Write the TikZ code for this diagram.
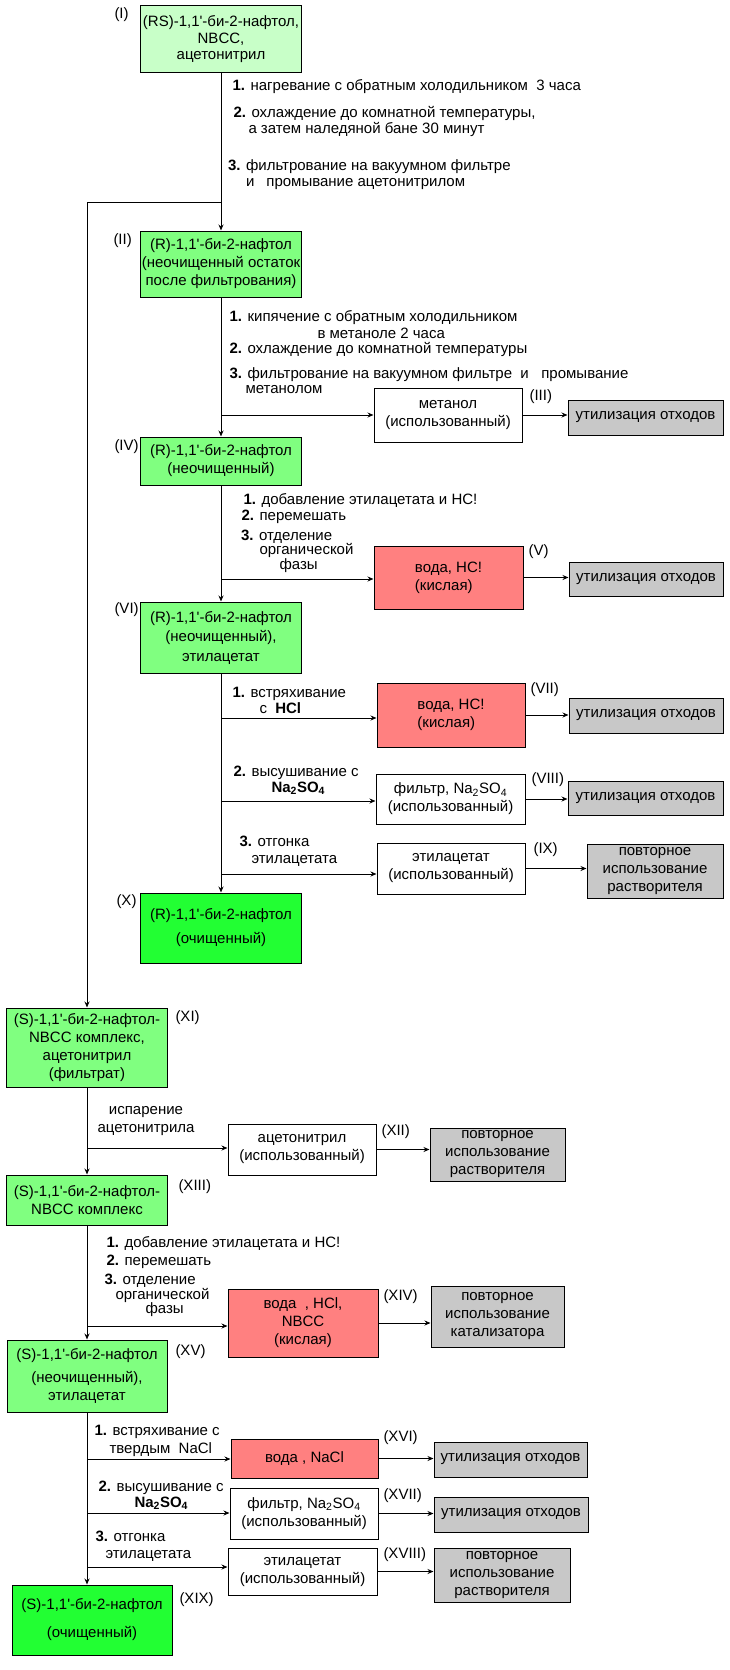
\documentclass[tikz,border=0pt]{standalone}
\usepackage{fontspec}
\setmainfont{Liberation Sans}[Ligatures=TeXOff]
\usetikzlibrary{arrows.meta}
\definecolor{palegreen}{RGB}{200,255,200}
\definecolor{rawgreen}{RGB}{128,255,128}
\definecolor{puregreen}{RGB}{34,255,51}
\definecolor{acidred}{RGB}{255,128,128}
\definecolor{bingray}{RGB}{200,200,200}

\begin{document}
\begin{tikzpicture}[x=1pt, y=-1pt, line width=1pt,
	box/.style = {draw, inner sep=0pt, align=center, font=\fontsize{15}{18}\selectfont},
	sz/.style 2 args = {minimum width=#1pt, minimum height=#2pt},
	startbox/.style = {box, fill=palegreen},
	rawbox/.style = {box, fill=rawgreen},
	purebox/.style = {box, fill=puregreen},
	acidbox/.style = {box, fill=acidred},
	usedbox/.style = {box, fill=white},
	endbox/.style = {box, fill=bingray},
	note/.style = {anchor=west, inner sep=0pt, align=left, font=\fontsize{15}{16}\selectfont},
	numlbl/.style = {anchor=west, inner sep=0pt, font=\fontsize{15}{17}\selectfont},
	arr/.style = {-{Stealth[length=6pt, width=5pt]}}]
	\useasboundingbox (0,0) rectangle (730,1670);
	% (R) column
	\node[startbox, sz={161}{67}, font=\fontsize{15}{16.5}\selectfont] (1) at (221,39.5) {(RS)-1,1'-би-2-нафтол,\\NBCC,\\ацетонитрил};
	\node[rawbox, sz={161}{66}] (2) at (221,264) {(R)-1,1'-би-2-нафтол\\(неочищенный остаток\\после фильтрования)};
	\node[usedbox, sz={148}{54}] (3) at (448,415) {метанол\\(использованный)};
	\node[endbox, sz={155}{35}] (g3) at (645.5,417.5) {утилизация отходов};
	\node[rawbox, sz={161}{48}] (4) at (221,461) {(R)-1,1'-би-2-нафтол\\(неочищенный)};
	\node[acidbox, sz={149}{63}, align=left] (5) at (448.5,577.5) {вода, HC!\\(кислая)};
	\node[endbox, sz={154}{34}] (g5) at (646,579) {утилизация отходов};
	\node[rawbox, sz={161}{71}, font=\fontsize{15}{19.5}\selectfont] (6) at (221,637.5) {(R)-1,1'-би-2-нафтол\\(неочищенный),\\этилацетат};
	\node[acidbox, sz={148}{64}, align=left] (7) at (451,715) {вода, HC!\\(кислая)};
	\node[endbox, sz={154}{35}] (g7) at (646,715.5) {утилизация отходов};
	\node[usedbox, sz={149}{50}] (8) at (450.5,799) {фильтр, Na\textsubscript{2}SO\textsubscript{4}\\(использованный)};
	\node[endbox, sz={155}{34}] (g8) at (645.5,798) {утилизация отходов};
	\node[usedbox, sz={148}{51}] (9) at (451,868.5) {этилацетат\\(использованный)};
	\node[endbox, sz={136}{54}] (g9) at (655,871) {повторное\\использование\\растворителя};
	\node[purebox, sz={161}{70}, font=\fontsize{15}{24}\selectfont] (10) at (221,928) {(R)-1,1'-би-2-нафтол\\(очищенный)};
	% (S) column
	\node[rawbox, sz={161}{79}] (11) at (87,1047.5) {(S)-1,1'-би-2-нафтол-\\NBCC комплекс,\\ацетонитрил\\(фильтрат)};
	\node[usedbox, sz={148}{51}] (12) at (302,1149.5) {ацетонитрил\\(использованный)};
	\node[endbox, sz={135}{53}] (g12) at (497.5,1154.5) {повторное\\использование\\растворителя};
	\node[rawbox, sz={161}{50}] (13) at (87,1200) {(S)-1,1'-би-2-нафтол-\\NBCC комплекс};
	\node[acidbox, sz={150}{68}] (14) at (303,1323) {вода\ \ , HCl,\\NBCC\\(кислая)};
	\node[endbox, sz={133}{61}] (g14) at (497.5,1316.5) {повторное\\использование\\катализатора};
	\node[rawbox, sz={160}{72}] (15) at (87,1376) {(S)-1,1'-би-2-нафтол\\[5pt](неочищенный),\\этилацетат};
	\node[acidbox, sz={147}{39}] (16) at (304.5,1458.5) {вода , NaCl};
	\node[endbox, sz={153}{35}] (g16) at (510.5,1459.5) {утилизация отходов};
	\node[usedbox, sz={148}{51}] (17) at (304,1513.5) {фильтр, Na\textsubscript{2}SO\textsubscript{4}\\(использованный)};
	\node[endbox, sz={154}{35}] (g17) at (511,1514.5) {утилизация отходов};
	\node[usedbox, sz={149}{47}] (18) at (302.5,1571.5) {этилацетат\\(использованный)};
	\node[endbox, sz={136}{54}] (g18) at (502,1575) {повторное\\использование\\растворителя};
	\node[purebox, sz={160}{70}, font=\fontsize{15}{28}\selectfont] (19) at (92,1620) {(S)-1,1'-би-2-нафтол\\(очищенный)};
	% labels
	\node[numlbl] (l1) at (114,15) {(I)};
	\node[numlbl] (l2) at (113,241) {(II)};
	\node[numlbl] (l3) at (529,397) {(III)};
	\node[numlbl] (l4) at (114,447) {(IV)};
	\node[numlbl] (l5) at (528,552) {(V)};
	\node[numlbl] (l6) at (114,610) {(VI)};
	\node[numlbl] (l7) at (530,690) {(VII)};
	\node[numlbl] (l8) at (531,780) {(VIII)};
	\node[numlbl] (l9) at (533,850) {(IX)};
	\node[numlbl] (l10) at (116,902) {(X)};
	\node[numlbl] (l11) at (175,1018) {(XI)};
	\node[numlbl] (l12) at (381,1132) {(XII)};
	\node[numlbl] (l13) at (178,1187) {(XIII)};
	\node[numlbl] (l14) at (383,1297) {(XIV)};
	\node[numlbl] (l15) at (175,1352) {(XV)};
	\node[numlbl] (l16) at (383,1438) {(XVI)};
	\node[numlbl] (l17) at (383,1496) {(XVII)};
	\node[numlbl] (l18) at (383,1555) {(XVIII)};
	\node[numlbl] (l19) at (179,1600) {(XIX)};
	% steps
	\node[note] (n1a) at (232,87) {\textbf{1.} нагревание с обратным холодильником\ \ 3 часа};
	\node[note, font=\fontsize{15}{13}\selectfont] (n1b) at (233,121.5) {\textbf{2.} охлаждение до комнатной температуры,\\\hspace*{15pt}а затем наледяной бане 30 минут};
	\node[note] (n1c) at (227.5,175) {\textbf{3.} фильтрование на вакуумном фильтре\\\hspace*{18pt}и\hspace{12pt}промывание ацетонитрилом};
	\node[note, font=\fontsize{15}{17}\selectfont] (n2a) at (229,324.5) {\textbf{1.} кипячение с обратным холодильником\\\hspace*{88pt}в метаноле 2 часа};
	\node[note] (n2b) at (229,349) {\textbf{2.} охлаждение до комнатной температуры};
	\node[note, font=\fontsize{15}{15}\selectfont] (n2c) at (229,380.5) {\textbf{3.} фильтрование на вакуумном фильтре\ \ и\ \ \ промывание\\\hspace*{16pt}метанолом};
	\node[note] (n4a) at (243,500) {\textbf{1.} добавление этилацетата и HC!};
	\node[note] (n4b) at (241,517) {\textbf{2.} перемешать};
	\node[note, font=\fontsize{15}{14.5}\selectfont] (n4c) at (240.5,551) {\textbf{3.} отделение\\\hspace*{18.5pt}органической\\\hspace*{38.5pt}фазы};
	\node[note] (n6a) at (232,700) {\textbf{1.} встряхивание\\\hspace*{27pt}с\ \ \textbf{HCl}};
	\node[note] (n6b) at (233,780) {\textbf{2.} высушивание с\\\hspace*{38pt}\textbf{Na\textsubscript{2}SO\textsubscript{4}}};
	\node[note, font=\fontsize{15}{17}\selectfont] (n6c) at (239,851.5) {\textbf{3.} отгонка\\\hspace*{12pt}этилацетата};
	\node[note, anchor=center, align=center, font=\fontsize{15}{18}\selectfont] (n11) at (146,1121) {испарение\\ацетонитрила};
	\node[note] (n13a) at (106,1243) {\textbf{1.} добавление этилацетата и HC!};
	\node[note] (n13b) at (106,1262) {\textbf{2.} перемешать};
	\node[note, font=\fontsize{15}{14}\selectfont] (n13c) at (104,1295) {\textbf{3.} отделение\\\hspace*{11pt}органической\\\hspace*{41pt}фазы};
	\node[note, font=\fontsize{15}{18}\selectfont] (n15a) at (94,1441) {\textbf{1.} встряхивание с\\\hspace*{15pt}твердым\ \ NaCl};
	\node[note] (n15b) at (98,1495) {\textbf{2.} высушивание с\\\hspace*{36pt}\textbf{Na\textsubscript{2}SO\textsubscript{4}}};
	\node[note, font=\fontsize{15}{17}\selectfont] (n15c) at (95,1546.5) {\textbf{3.} отгонка\\\hspace*{10pt}этилацетата};
	% branch points
	\coordinate (b1) at (221,202);
	\coordinate (b2) at (221,415);
	\coordinate (b3) at (221,579);
	\coordinate (b4) at (221,718);
	\coordinate (b5) at (221,801);
	\coordinate (b6) at (221,874);
	\coordinate (c1) at (87,1148);
	\coordinate (c2) at (87,1326);
	\coordinate (c3) at (87,1459);
	\coordinate (c4) at (87,1513);
	\coordinate (c5) at (87,1567);
	% connectors
	\draw[arr] (1) -- (2);
	\draw[arr] (b1) -| (11);
	\draw[arr] (2) -- (4);
	\draw[arr] (b2) -- (b2 -| 3.west);
	\draw[arr] (3) -- (3 -| g3.west);
	\draw[arr] (4) -- (6);
	\draw[arr] (b3) -- (b3 -| 5.west);
	\draw[arr] (5) -- (5 -| g5.west);
	\draw[arr] (6) -- (10);
	\draw[arr] (b4) -- (b4 -| 7.west);
	\draw[arr] (7) -- (7 -| g7.west);
	\draw[arr] (b5) -- (b5 -| 8.west);
	\draw[arr] (8) -- (8 -| g8.west);
	\draw[arr] (b6) -- (b6 -| 9.west);
	\draw[arr] (9) -- (9 -| g9.west);
	\draw[arr] (11) -- (13);
	\draw[arr] (c1) -- (c1 -| 12.west);
	\draw[arr] (12) -- (12 -| g12.west);
	\draw[arr] (13) -- (15);
	\draw[arr] (c2) -- (c2 -| 14.west);
	\draw[arr] (14) -- (14 -| g14.west);
	\draw[arr] (15) -- (15 |- 19.north);
	\draw[arr] (c3) -- (c3 -| 16.west);
	\draw[arr] (16) -- (16 -| g16.west);
	\draw[arr] (c4) -- (c4 -| 17.west);
	\draw[arr] (17) -- (17 -| g17.west);
	\draw[arr] (c5) -- (c5 -| 18.west);
	\draw[arr] (18) -- (18 -| g18.west);
\end{tikzpicture}
\end{document}
